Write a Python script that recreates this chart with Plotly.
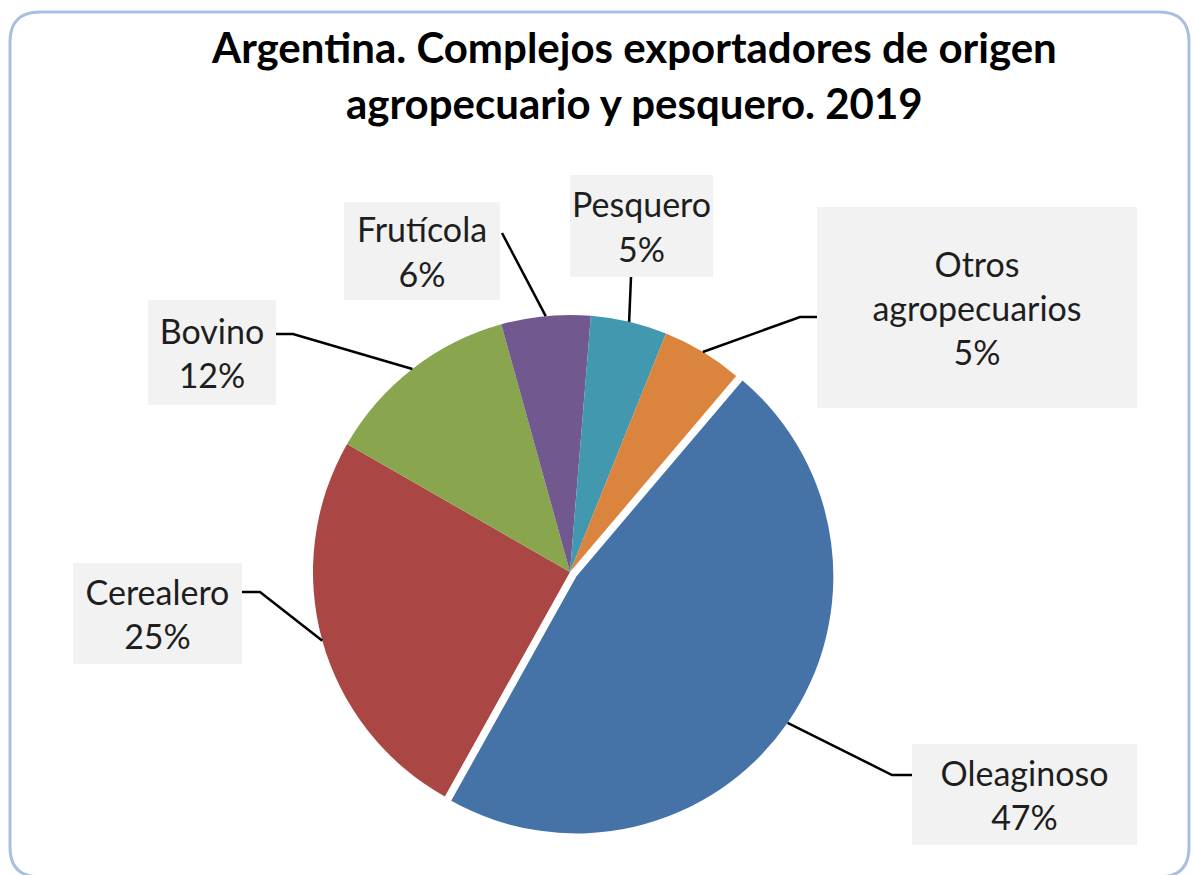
import math
import plotly.graph_objects as go

# ---- data ----
categories = ["Oleaginoso", "Cerealero", "Bovino", "Frutícola", "Pesquero", "Otros agropecuarios"]
values = [46.9, 25.2, 12.4, 5.6, 4.8, 5.1]
label_lines = {
    "Oleaginoso": ["Oleaginoso"],
    "Cerealero": ["Cerealero"],
    "Bovino": ["Bovino"],
    "Frutícola": ["Frutícola"],
    "Pesquero": ["Pesquero"],
    "Otros agropecuarios": ["Otros", "agropecuarios"],
}
title_lines = ["Argentina. Complejos exportadores de origen", "agropecuario y pesquero. 2019"]

# ---- style ----
colors = ["#4572A7", "#AA4643", "#89A54E", "#71588F", "#4198AF", "#DB843D"]
pulls = [0.03, 0, 0, 0, 0, 0]
W, H = 1194, 875
ROT = 40.3
CX, CY, R = 570.0, 572.0, 257.0   # pixel geometry of pie
FONT = "Lato"

# label boxes (left, top, right, bottom) in pixels and leader-line knees
label_boxes = {
    "Oleaginoso": (912, 744, 1137, 845),
    "Cerealero": (73, 563, 242, 664),
    "Bovino": (148, 300, 276, 405),
    "Frutícola": (344, 202, 500, 300),
    "Pesquero": (570, 175, 713, 277),
    "Otros agropecuarios": (817, 207, 1137, 408),
}
leader_knees = {
    "Oleaginoso": [(892, 775), (912, 775)],
    "Cerealero": [(260, 592), (242, 592)],
    "Bovino": [(293, 334), (276, 334)],
    "Frutícola": [(502, 233)],
    "Pesquero": [(631, 277)],
    "Otros agropecuarios": [(800, 317), (817, 317)],
}


def px(x):
    return x / W


def py(y):
    return 1 - y / H


maxpull = max(pulls)
half = R * (1 + maxpull)
domain_x = [px(CX - half), px(CX + half)]
domain_y = [py(CY + half), py(CY - half)]

fig = go.Figure(go.Pie(
    labels=categories,
    values=values,
    sort=False,
    direction="clockwise",
    rotation=ROT,
    pull=pulls,
    marker=dict(colors=colors, line=dict(width=0)),
    textinfo="none",
    hoverinfo="label+percent",
    showlegend=False,
    domain=dict(x=domain_x, y=domain_y),
))

total = sum(values)
shapes = []
annotations = []
cum = 0.0
for name, v, p in zip(categories, values, pulls):
    mid = math.radians(ROT + 360.0 * (cum + v / 2) / total)
    cum += v
    ox = CX + p * R * math.sin(mid)
    oy = CY - p * R * math.cos(mid)
    ex = ox + R * math.sin(mid)
    ey = oy - R * math.cos(mid)
    pts = [(ex, ey)] + leader_knees[name]
    path = "M " + " L ".join(f"{px(a):.5f},{py(b):.5f}" for a, b in pts)
    shapes.append(dict(type="path", path=path, xref="paper", yref="paper",
                       line=dict(color="#000000", width=2.5), layer="above"))
    l, t, r_, b = label_boxes[name]
    pct = f"{round(100 * v / total)}%"
    text = "<br>".join(label_lines[name] + [pct])
    annotations.append(dict(
        x=px((l + r_) / 2), y=py((t + b) / 2), xref="paper", yref="paper",
        xanchor="center", yanchor="middle", showarrow=False,
        text=text, align="center", valign="middle",
        width=r_ - l, height=b - t, bgcolor="#F2F2F2", borderpad=0, borderwidth=0,
        font=dict(family=FONT, size=34, color="#1E1E1E"),
    ))

for txt, yy in zip(title_lines, [47, 103]):
    annotations.append(dict(
        x=px(634), y=py(yy), xref="paper", yref="paper",
        xanchor="center", yanchor="middle", showarrow=False,
        text=f"<b>{txt}</b>",
        font=dict(family=FONT, size=42, color="#000000"),
    ))

# rounded chart border
L_, T_, R2, B_, rr = 10, 12, 1189, 877, 30
border = (f"M {px(L_ + rr)},{py(T_)} L {px(R2 - rr)},{py(T_)} "
          f"Q {px(R2)},{py(T_)} {px(R2)},{py(T_ + rr)} L {px(R2)},{py(B_ - rr)} "
          f"Q {px(R2)},{py(B_)} {px(R2 - rr)},{py(B_)} L {px(L_ + rr)},{py(B_)} "
          f"Q {px(L_)},{py(B_)} {px(L_)},{py(B_ - rr)} L {px(L_)},{py(T_ + rr)} "
          f"Q {px(L_)},{py(T_)} {px(L_ + rr)},{py(T_)} Z")
shapes.append(dict(type="path", path=border, xref="paper", yref="paper",
                   line=dict(color="#A9BFE2", width=3), layer="below"))

fig.update_layout(
    width=W, height=H,
    margin=dict(l=0, r=0, t=0, b=0),
    paper_bgcolor="#FFFFFF",
    plot_bgcolor="#FFFFFF",
    shapes=shapes,
    annotations=annotations,
)

fig.write_html("out.html", config={"displayModeBar": False},
               post_script="document.body.style.margin='0';document.body.style.overflow='hidden';")
